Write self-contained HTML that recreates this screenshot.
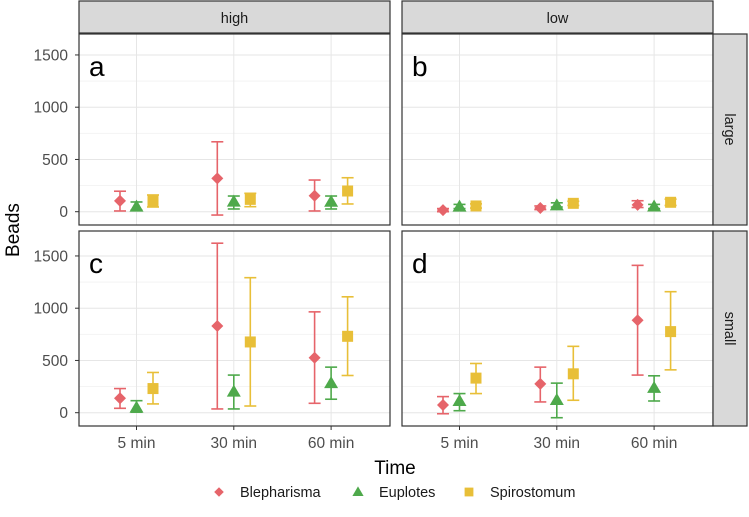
<!DOCTYPE html>
<html><head><meta charset="utf-8"><style>
body{margin:0;background:#fff}
svg{display:block;font-family:"Liberation Sans",sans-serif}
</style></head><body>
<svg id="chart" width="749" height="517"></svg>
<script>
const categories=["5 min","30 min","60 min"];
const species=["Blepharisma","Euplotes","Spirostomum"];
const yTicks=[0,500,1000,1500];
const panelLabels=["a","b","c","d"];
// mean, lower, upper per panel [species][category]
const meanA=[[103,319,153],[48,96,95],[102,118,198]];
const lowA=[[7,-32,7],[16,26,26],[45,48,74]];
const upA=[[196,669,303],[93,150,150],[160,176,325]];
const meanB=[[15,35,65],[48,60,50],[55,80,90]];
const lowB=[[0,20,40],[30,45,30],[35,60,60]];
const upB=[[30,55,105],[70,85,70],[75,100,120]];
const meanC=[[138,830,526],[48,202,283],[231,677,731]];
const lowC=[[42,36,90],[5,36,129],[84,64,356]];
const upC=[[231,1622,965],[115,360,436],[385,1292,1109]];
const meanD=[[74,276,885],[112,122,237],[331,372,776]];
const lowD=[[-10,103,360],[19,-48,112],[183,119,410]];
const upD=[[154,436,1410],[183,283,353],[471,635,1158]];

const NS="http://www.w3.org/2000/svg";
const svg=document.getElementById("chart");
function mk(tag,attrs,parent,name,inter){const e=document.createElementNS(NS,tag);for(const k in attrs)e.setAttribute(k,attrs[k]);


(parent||svg).appendChild(e);return e;}
const colors=["#e6646a","#4ea94b","#e8bf38"];
const panels=[
 {x:79,y:34,h:191,y0:211.7,m:meanA,l:lowA,u:upA},
 {x:402,y:34,h:191,y0:211.7,m:meanB,l:lowB,u:upB},
 {x:79,y:231,h:195,y0:412.7,m:meanC,l:lowC,u:upC},
 {x:402,y:231,h:195,y0:412.7,m:meanD,l:lowD,u:upD}];
const W=311, k=0.1045, step=97.3, off=57.5, dodge=16.5;
function marker(g,s,cx,cy,name,sc){sc=sc||1;
 if(s===0)mk("polygon",{points:`${cx},${cy-6*sc} ${cx+6*sc},${cy} ${cx},${cy+6*sc} ${cx-6*sc},${cy}`,fill:colors[0]},g,name);
 else if(s===1)mk("polygon",{points:`${cx},${cy-7*sc} ${cx+7*sc},${cy+5*sc} ${cx-7*sc},${cy+5*sc}`,fill:colors[1]},g,name);
 else mk("rect",{x:cx-5.5*sc,y:cy-5.5*sc,width:11*sc,height:11*sc,fill:colors[2]},g,name);
}
panels.forEach((p,pi)=>{
 const g=mk("g",{},svg,"panel-"+panelLabels[pi]);
 const Y=v=>p.y0-v*k, X=i=>p.x+off+i*step;
 mk("rect",{x:p.x,y:p.y,width:W,height:p.h,fill:"#fff"},g,"panel-background");
 for(let t=250;t<=1750;t+=500){const yy=Y(t);if(yy>p.y)mk("line",{x1:p.x,x2:p.x+W,y1:yy,y2:yy,stroke:"#f2f2f2","stroke-width":0.8},g,"minor-gridline");}
 yTicks.forEach(t=>mk("line",{x1:p.x,x2:p.x+W,y1:Y(t),y2:Y(t),stroke:"#e6e6e6","stroke-width":1},g,"major-gridline"));
 categories.forEach((c,i)=>mk("line",{x1:X(i),x2:X(i),y1:p.y,y2:p.y+p.h,stroke:"#e6e6e6","stroke-width":1},g,"x-gridline"));
 species.forEach((s,si)=>categories.forEach((c,ci)=>{
  const cx=X(ci)+(si-1)*dodge;
  const eg=mk("g",{stroke:colors[si],"stroke-width":1.6},g,"errorbar-"+s.toLowerCase());
  const yu=Y(p.u[si][ci]),yl=Y(p.l[si][ci]);
  mk("line",{x1:cx,x2:cx,y1:yu,y2:yl},eg,"errorbar-stem");
  mk("line",{x1:cx-6,x2:cx+6,y1:yu,y2:yu},eg,"errorbar-cap");
  mk("line",{x1:cx-6,x2:cx+6,y1:yl,y2:yl},eg,"errorbar-cap");
  marker(g,si,cx,Y(p.m[si][ci]),"point-"+s.toLowerCase());
 }));
 mk("rect",{x:p.x,y:p.y,width:W,height:p.h,fill:"none",stroke:"#333","stroke-width":1.2},g,"panel-border");
 const lt=mk("text",{x:p.x+10,y:p.y+42,"font-size":28,fill:"#000"},g,"panel-letter");lt.textContent=panelLabels[pi];
 if(pi%2===0) yTicks.forEach(t=>{
  mk("line",{x1:p.x-4,x2:p.x,y1:Y(t),y2:Y(t),stroke:"#333"},svg,"y-tick");
  const tx=mk("text",{x:p.x-11,y:Y(t)+5.5,"font-size":15.5,fill:"#4d4d4d","text-anchor":"end"},svg,"y-tick-label");tx.textContent=t;});
 if(pi>=2) categories.forEach((c,i)=>{
  mk("line",{x1:X(i),x2:X(i),y1:p.y+p.h,y2:p.y+p.h+4,stroke:"#333"},svg,"x-tick");
  const tx=mk("text",{x:X(i),y:p.y+p.h+22,"font-size":15.5,fill:"#4d4d4d","text-anchor":"middle"},svg,"x-tick-label");tx.textContent=c;});
});
[["high",79],["low",402]].forEach(([t,x])=>{
 mk("rect",{x:x,y:1,width:W,height:32,fill:"#d9d9d9",stroke:"#333","stroke-width":1.2},svg,"strip-"+t);
 const tx=mk("text",{x:x+W/2,y:23,"font-size":14.5,fill:"#1a1a1a","text-anchor":"middle"},svg,"strip-label");tx.textContent=t;});
[["large",34,191],["small",231,195]].forEach(([t,y,h])=>{
 mk("rect",{x:713,y:y,width:34,height:h,fill:"#d9d9d9",stroke:"#333","stroke-width":1.2},svg,"strip-"+t);
 const tx=mk("text",{x:0,y:0,"font-size":14.5,fill:"#1a1a1a","text-anchor":"middle",transform:`translate(725,${y+h/2}) rotate(90)`},svg,"strip-label");tx.textContent=t;});
let t=mk("text",{x:0,y:0,"font-size":19,fill:"#000","text-anchor":"middle",transform:"translate(19,230) rotate(-90)"},svg,"y-axis-title");t.textContent="Beads";
t=mk("text",{x:395,y:474,"font-size":19,fill:"#000","text-anchor":"middle"},svg,"x-axis-title");t.textContent="Time";
const lx=[219,358,469];
species.forEach((s,i)=>{
 const lg=mk("g",{},svg,"legend-entry-"+s.toLowerCase(),true);
 marker(lg,i,lx[i],492,"legend-marker",0.8);
 const tx=mk("text",{x:lx[i]+21,y:497,"font-size":14.5,fill:"#1a1a1a"},lg,"legend-label");tx.textContent=s;
});
</script>
</body></html>
